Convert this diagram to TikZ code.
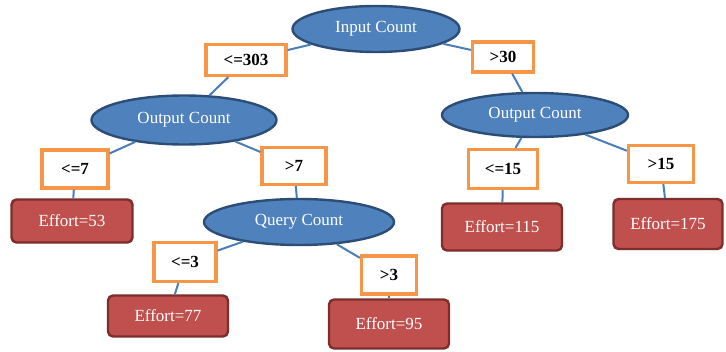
\documentclass[tikz,border=0pt]{standalone}
\usepackage{fontspec}
\setmainfont{Liberation Serif}
\usetikzlibrary{shapes.geometric}
\definecolor{nodeblue}{RGB}{79,129,189}
\definecolor{nodeblueline}{RGB}{44,77,118}
\definecolor{condorange}{RGB}{247,150,70}
\definecolor{leafred}{RGB}{192,80,77}
\definecolor{leafredline}{RGB}{125,45,43}
\definecolor{edgeblue}{RGB}{74,126,187}

\begin{document}
\begin{tikzpicture}[x=1pt, y=-1pt,
    main/.style = {draw=nodeblueline, line width=2.4pt, fill=nodeblue, ellipse, inner sep=0pt, text=white, font=\fontsize{17}{20}\selectfont},
    cond/.style = {draw=condorange, line width=3.2pt, fill=white, inner sep=0pt, font=\fontsize{17}{20}\selectfont\bfseries},
    leaf/.style = {draw=leafredline, line width=2.4pt, fill=leafred, rounded corners=5pt, inner sep=0pt, text=white, font=\fontsize{17}{20}\selectfont},
    link/.style = {draw=edgeblue, line width=2pt}]
            \useasboundingbox (0,0) rectangle (726,352);

            \node[main, minimum width=167pt, minimum height=46pt] (in) at (376,29) {Input Count};
            \node[cond, minimum width=80pt, minimum height=31pt] (le303) at (246,60) {<=303};
            \node[cond, minimum width=61pt, minimum height=30pt] (gt30) at (503,57) {>30};

            \node[main, minimum width=185pt, minimum height=49pt] (outL) at (184,120) {Output Count};
            \node[main, minimum width=186pt, minimum height=44pt] (outR) at (535,115) {Output Count};

            \node[cond, minimum width=66pt, minimum height=38pt] (le7) at (75,169) {<=7};
            \node[cond, minimum width=64pt, minimum height=37pt] (gt7) at (294,166) {>7};
            \node[cond, minimum width=69pt, minimum height=39pt] (le15) at (503,169) {<=15};
            \node[cond, minimum width=65pt, minimum height=37pt] (gt15) at (661,164) {>15};

            \node[leaf, minimum width=121pt, minimum height=43pt] (e53) at (72,221) {Effort=53};
            \node[main, minimum width=190pt, minimum height=46pt] (query) at (299,222) {Query Count};
            \node[leaf, minimum width=120pt, minimum height=47pt] (e115) at (502,227) {Effort=115};
            \node[leaf, minimum width=109pt, minimum height=50pt] (e175) at (668,224) {Effort=175};

            \node[cond, minimum width=62pt, minimum height=39pt] (le3) at (185,262) {<=3};
            \node[cond, minimum width=55pt, minimum height=38pt] (gt3) at (389,275) {>3};

            \node[leaf, minimum width=120pt, minimum height=41pt] (e77) at (168,316) {Effort=77};
            \node[leaf, minimum width=120pt, minimum height=49pt] (e95) at (389,324) {Effort=95};

            \path (in) edge[link] (le303) (le303) edge[link] (outL);
            \path (in) edge[link] (gt30) (gt30) edge[link] (outR);

            \path (outL) edge[link] (le7) (le7) edge[link] (e53);
            \path (outL) edge[link] (gt7) (gt7) edge[link] (query);

            \path (query) edge[link] (le3) (le3) edge[link] (e77);
            \path (query) edge[link] (gt3) (gt3) edge[link] (e95);

            \path (outR) edge[link] (le15) (le15) edge[link] (e115);
            \path (outR) edge[link] (gt15) (gt15) edge[link] (e175);
        \end{tikzpicture}
\end{document}
